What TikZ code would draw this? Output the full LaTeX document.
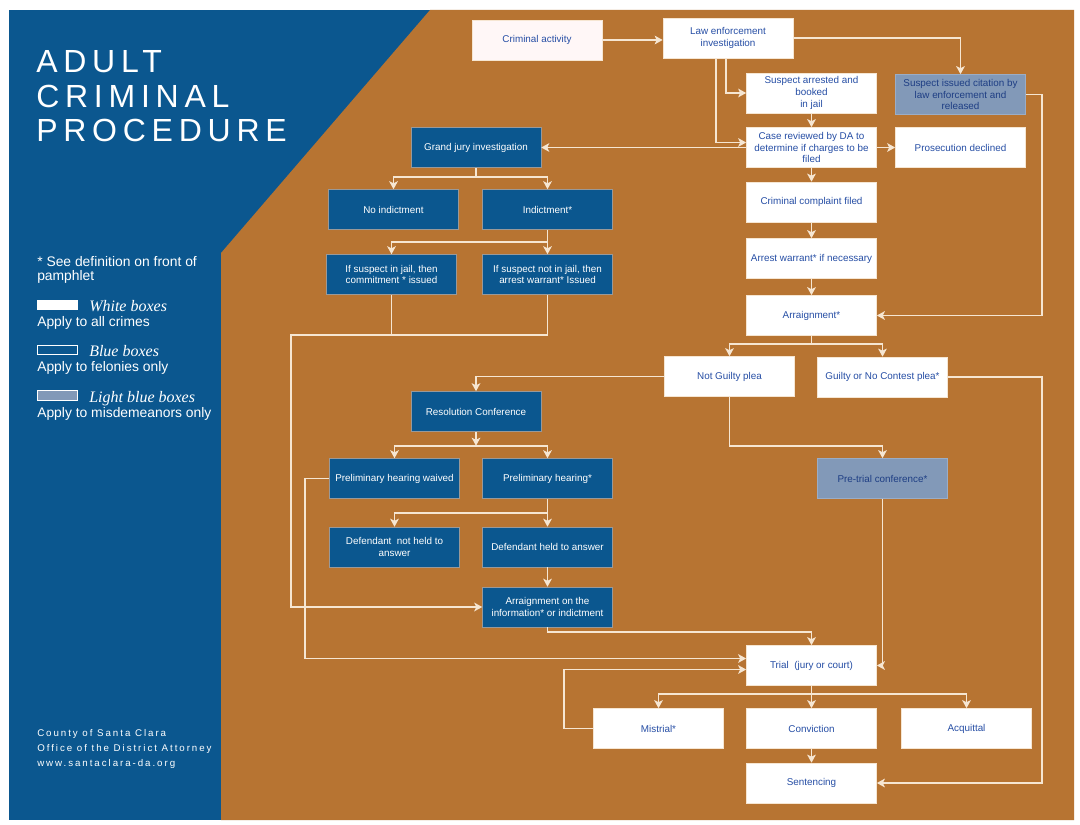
\documentclass[tikz,border=0pt]{standalone}
\usepackage{fontspec}
\setmainfont{Liberation Sans}
\newfontfamily\serifit{Liberation Serif}
\newfontfamily\spacedtitle[LetterSpace=18]{Liberation Sans}
\newfontfamily\spacedsmall[LetterSpace=20]{Liberation Sans}
\usepackage{tikz}
\usetikzlibrary{positioning}
\usetikzlibrary{arrows.meta}
\usetikzlibrary{calc}
\pgfdeclarelayer{bglayer}
\pgfdeclarelayer{nodelayer}
\pgfdeclarelayer{edgelayer}
\pgfsetlayers{bglayer,nodelayer,edgelayer,main}

\definecolor{panelblue}{RGB}{11,87,143}
\definecolor{panelorange}{RGB}{183,116,50}
\definecolor{lightbox}{RGB}{130,153,184}
\definecolor{boxtext}{RGB}{38,78,165}
\definecolor{wire}{RGB}{246,230,210}

\tikzset{
  flowbox/.style={rectangle, minimum width=97.5pt, minimum height=30pt, inner sep=1pt,
    align=center, font=\fontsize{7.4}{8.8}\selectfont},
  whitebox/.style={flowbox, fill=white, draw=wire, line width=0.5pt, text=boxtext},
  bluebox/.style={flowbox, fill=panelblue, draw=black!40, line width=0.4pt, text=white},
  lightbluebox/.style={flowbox, fill=lightbox, draw=lightbox!80!white, line width=0.5pt, text=boxtext!80!black},
  wireline/.style={draw=wire, line width=1.3pt},
  arr/.style={wireline, -{Stealth[length=6pt,width=6.5pt,inset=1.5pt]}},
  sidetext/.style={anchor=base west, inner sep=0pt, text=white},
}

\begin{document}
\begin{tikzpicture}[x=0.75pt, y=-0.75pt]
  \begin{pgfonlayer}{bglayer}
    \fill [white] (0, 0) rectangle (1080, 824);
    \fill [panelblue] (9, 10) rectangle (1074, 820);
    \fill [panelorange] (221, 820) -- (221, 253) -- (430, 10) -- (1074, 10) -- (1074, 820) -- cycle;
  \end{pgfonlayer}
  \begin{pgfonlayer}{nodelayer}
    % title and legend
    \node [sidetext, font=\spacedtitle\fontsize{24}{25}\selectfont] (t0) at (36, 73) {ADULT};
    \node [sidetext, font=\spacedtitle\fontsize{24}{25}\selectfont] (t1) at (36, 107) {CRIMINAL};
    \node [sidetext, font=\spacedtitle\fontsize{24}{25}\selectfont] (t2) at (36, 141) {PROCEDURE};
    \node [sidetext, font=\fontsize{10.4}{10.5}\selectfont] (l0) at (37, 266) {* See definition on front of};
    \node [sidetext, font=\fontsize{10.4}{10.5}\selectfont] (l1) at (37, 280) {pamphlet};
    \node [rectangle, fill=white, minimum width=30.75pt, minimum height=7.5pt, inner sep=0pt] (k0) at (57.5, 305) {};
    \node [sidetext, font=\serifit\itshape\fontsize{12}{12}\selectfont] (l2) at (89, 311) {White boxes};
    \node [sidetext, font=\fontsize{10.4}{10.5}\selectfont] (l3) at (37, 326) {Apply to all crimes};
    \node [rectangle, draw=white, line width=0.8pt, fill=panelblue, minimum width=30pt, minimum height=7pt, inner sep=0pt] (k1) at (57.5, 350) {};
    \node [sidetext, font=\serifit\itshape\fontsize{12}{12}\selectfont] (l4) at (89, 356) {Blue boxes};
    \node [sidetext, font=\fontsize{10.4}{10.5}\selectfont] (l5) at (37, 371) {Apply to felonies only};
    \node [rectangle, draw=white, line width=0.8pt, fill=lightbox, minimum width=30pt, minimum height=7pt, inner sep=0pt] (k2) at (57.5, 395.5) {};
    \node [sidetext, font=\serifit\itshape\fontsize{12}{12}\selectfont] (l6) at (89, 402) {Light blue boxes};
    \node [sidetext, font=\fontsize{10.4}{10.5}\selectfont] (l7) at (37, 417) {Apply to misdemeanors only};
    \node [sidetext, font=\spacedsmall\fontsize{7.3}{8}\selectfont] (f0) at (37, 736) {County of Santa Clara};
    \node [sidetext, font=\spacedsmall\fontsize{7.3}{8}\selectfont] (f1) at (37, 751) {Office of the District Attorney};
    \node [sidetext, font=\spacedsmall\fontsize{7.3}{8}\selectfont] (f2) at (37, 766) {www.santaclara-da.org};
    % flow boxes
    \node [whitebox, fill=white!97!red] (0) at (537, 40) {Criminal activity};
    \node [whitebox] (1) at (728, 38) {Law enforcement\\investigation};
    \node [whitebox] (2) at (811.5, 93) {Suspect arrested and\\booked\\in jail};
    \node [lightbluebox] (3) at (960.5, 94.5) {Suspect issued citation by\\law enforcement and\\released};
    \node [whitebox] (4) at (811.5, 147.5) {Case reviewed by DA to\\determine if charges to be\\filed};
    \node [whitebox] (5) at (960.5, 147.5) {Prosecution declined};
    \node [bluebox] (6) at (476, 147.5) {Grand jury investigation};
    \node [whitebox] (7) at (811.5, 202) {Criminal complaint filed};
    \node [whitebox] (8) at (811.5, 258.5) {Arrest warrant* if necessary};
    \node [whitebox] (9) at (811.5, 315.5) {Arraignment*};
    \node [bluebox] (10) at (393.5, 209.5) {No indictment};
    \node [bluebox] (11) at (547.5, 209.5) {Indictment*};
    \node [bluebox] (12) at (391.5, 274.5) {If suspect in jail, then\\commitment * issued};
    \node [bluebox] (13) at (547.5, 274.5) {If suspect not in jail, then\\arrest warrant* Issued};
    \node [whitebox] (14) at (729.5, 376.5) {Not Guilty plea};
    \node [whitebox] (15) at (882.5, 377) {Guilty or No Contest plea*};
    \node [bluebox] (16) at (476, 411.5) {Resolution Conference};
    \node [bluebox] (17) at (394.5, 478.5) {Preliminary hearing waived};
    \node [bluebox] (18) at (547.5, 478.5) {Preliminary hearing*};
    \node [lightbluebox] (19) at (882.5, 478.5) {Pre-trial conference*};
    \node [bluebox] (20) at (394.5, 547) {Defendant\ \ not held to\\answer};
    \node [bluebox] (21) at (547.5, 547) {Defendant held to answer};
    \node [bluebox] (22) at (547.5, 607) {Arraignment on the\\information* or indictment};
    \node [whitebox] (23) at (811.5, 665.5) {Trial\ \ (jury or court)};
    \node [whitebox] (24) at (658.5, 728.5) {Mistrial*};
    \node [whitebox] (25) at (811.5, 728.5) {Conviction};
    \node [whitebox] (26) at (966.5, 728.5) {Acquittal};
    \node [whitebox] (27) at (811.5, 783) {Sentencing};
    \coordinate (jn) at (291, 335);
  \end{pgfonlayer}
  \begin{pgfonlayer}{edgelayer}
    \draw [arr] (0.east) -- (0.east -| 1.west);
    \draw [arr] (1.east) -| (3.north);
    \draw [arr] ($(1.south)+(-2,0)$) |- (2.west);
    \draw [arr] ($(1.south)+(-12,0)$) |- ($(4.west)+(0,-5)$);
    \draw [arr] (2) to (4);
    \draw [arr] (4.east) -- (5.west);
    \draw [arr] (4.west) -- (6.east);
    \draw [arr] (4) to (7);
    \draw [arr] (7) to (8);
    \draw [arr] (8) to (9);
    \draw [arr] (3.east) -- ++(16,0) |- (9.east);
    \draw [arr] (6.south) -- ++(0,9) -| (10.north);
    \draw [arr] (6.south) -- ++(0,9) -| (11.north);
    \draw [arr] (11.south) -- ++(0,12) -| (12.north);
    \draw [arr] (11) to (13);
    \draw [wireline] (12.south) -- (12.south |- jn);
    \draw [arr] (13.south) |- (jn) |- (22.west);
    \draw [arr] (9.south) -- ++(0,8) -| (14.north);
    \draw [arr] (9.south) -- ++(0,8) -| (15.north);
    \draw [arr] (14.west) -| (16.north);
    \draw [arr] (14.south) -- ++(0,49) -| (19.north);
    \draw [arr] (15.east) -- ++(94,0) |- (27.east);
    \draw [arr] (16.south) -- ++(0,14);
    \draw [arr] ($(16.south)+(0,14)$) -| (17.north);
    \draw [arr] ($(16.south)+(0,14)$) -| (18.north);
    \draw [arr] (17.west) -- ++(-24,0) |- ($(23.west)+(0,-7)$);
    \draw [arr] (18.south) -- ++(0,14) -| (20.north);
    \draw [arr] (18) to (21);
    \draw [arr] (21) to (22);
    \draw [arr] (22.south) -- ++(0,5) -| (23.north);
    \draw [arr] (19.south) |- (23.east);
    \draw [arr] (24.west) -- ++(-29,0) |- ($(23.west)+(0,4)$);
    \draw [arr] (23.south) -- ++(0,8) -| (24.north);
    \draw [arr] (23) to (25);
    \draw [arr] (23.south) -- ++(0,8) -| (26.north);
    \draw [arr] (25) to (27);
  \end{pgfonlayer}
\end{tikzpicture}
\end{document}
